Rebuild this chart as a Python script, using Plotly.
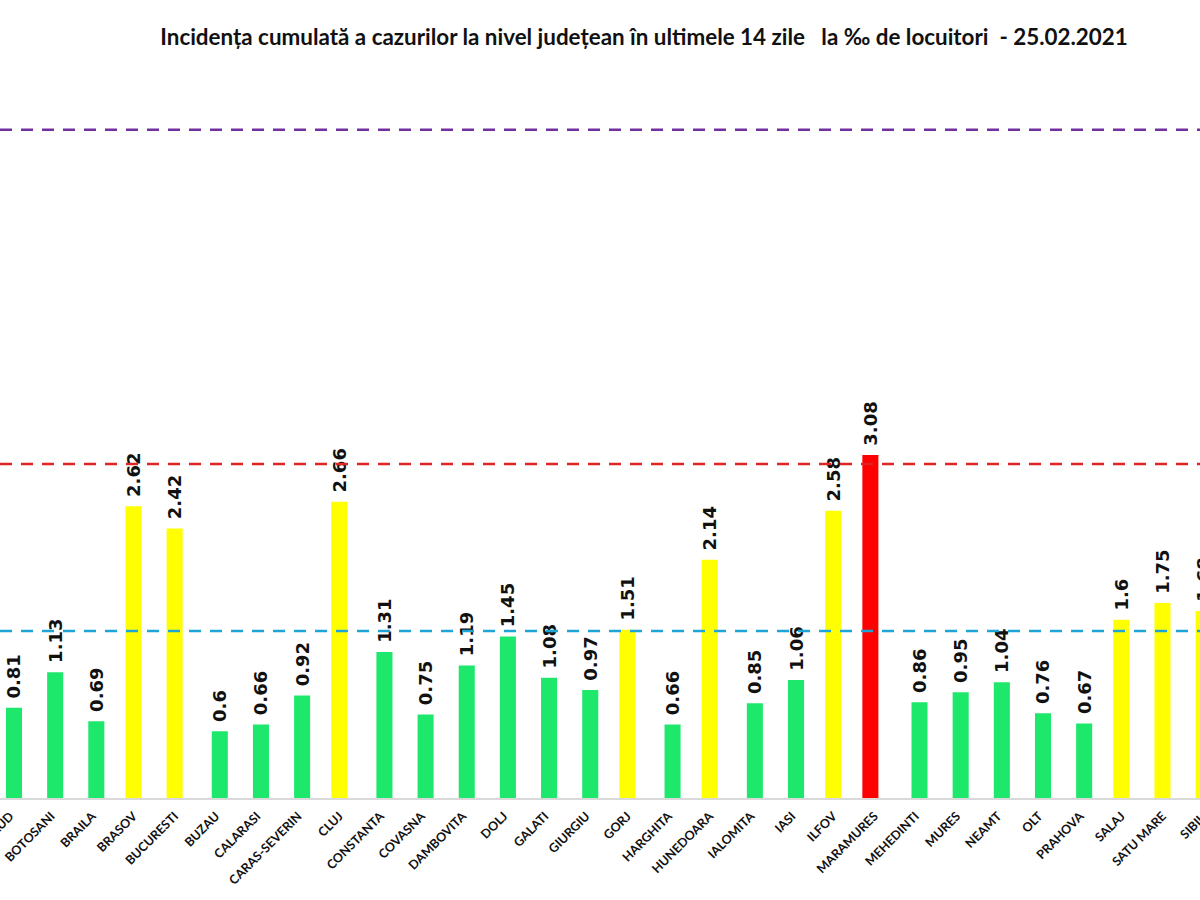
import plotly.graph_objects as go

counties = ["BISTRITA-NASAUD", "BOTOSANI", "BRAILA", "BRASOV", "BUCURESTI", "BUZAU",
            "CALARASI", "CARAS-SEVERIN", "CLUJ", "CONSTANTA", "COVASNA", "DAMBOVITA",
            "DOLJ", "GALATI", "GIURGIU", "GORJ", "HARGHITA", "HUNEDOARA", "IALOMITA",
            "IASI", "ILFOV", "MARAMURES", "MEHEDINTI", "MURES", "NEAMT", "OLT",
            "PRAHOVA", "SALAJ", "SATU MARE", "SIBIU"]
values = [0.81, 1.13, 0.69, 2.62, 2.42, 0.6, 0.66, 0.92, 2.66, 1.31, 0.75, 1.19,
          1.45, 1.08, 0.97, 1.51, 0.66, 2.14, 0.85, 1.06, 2.58, 3.08, 0.86, 0.95,
          1.04, 0.76, 0.67, 1.6, 1.75, 1.68]
thresholds = [1.5, 3, 6]
threshold_colors = ["#1ea5d8", "#e02424", "#7030a0"]

title_text = ("Incidența cumulată a cazurilor la nivel județean în ultimele 14 zile"
              "\u00a0\u00a0\u00a0la ‰ de locuitori\u00a0\u00a0- 25.02.2021")

GREEN, YELLOW, RED = "#1ee86c", "#ffff00", "#ff0000"

groups = {"red": ([], []), "yellow": ([], []), "green": ([], [])}
for c, v in zip(counties, values):
    key = "green" if v < 1.5 else ("yellow" if v < 3 else "red")
    groups[key][0].append(c)
    groups[key][1].append(v)

W = 0.39
SH = 0.097
specs = [("red", RED, -W / 2 - SH), ("yellow", YELLOW, -W / 2), ("green", GREEN, -W / 2 + SH)]

FIG_W = 1212
STEP = 41.16

fig = go.Figure()
for key, col, off in specs:
    xs, ys = groups[key]
    fig.add_trace(go.Bar(
        x=xs, y=ys, width=W, offset=off,
        marker=dict(color=col, line=dict(width=0)),
        texttemplate="\u00a0%{y}", textposition="outside", textangle=-90,
        constraintext="none", cliponaxis=False,
        textfont=dict(family="DejaVu Sans", size=18, color="#111111", weight="bold"),
        showlegend=False, hoverinfo="x+y",
    ))

for t, col in zip(thresholds, threshold_colors):
    fig.add_shape(type="line", xref="paper", x0=0, x1=1, yref="y", y0=t, y1=t,
                  line=dict(color=col, width=2.5, dash="12px,9px"), layer="above")

fig.update_layout(
    width=FIG_W, height=900,
    margin=dict(l=0, r=0, t=63, b=102),
    paper_bgcolor="white", plot_bgcolor="white",
    barmode="overlay",
    title=dict(text=title_text, x=644 / FIG_W, xanchor="center", xref="paper",
               y=1 - 37 / 900, yref="container", yanchor="middle",
               font=dict(family="Lato", size=22.4, color="#111111", weight="bold")),
)
fig.update_xaxes(
    type="category", categoryorder="array", categoryarray=counties,
    range=[-10 / STEP, (FIG_W - 10) / STEP],
    tickangle=-45, automargin=False, ticklabelstandoff=4,
    tickfont=dict(family="Lato", size=12.5, color="#111111", weight="bold"),
    showline=True, linecolor="#d9d9d9", linewidth=2,
    ticks="", showgrid=False,
)
fig.update_yaxes(range=[0, 6.6], visible=False, showgrid=False, zeroline=False)

fig.write_html("out.html", config={"displayModeBar": False},
               post_script="document.body.style.margin='0';document.body.style.overflow='hidden';")
